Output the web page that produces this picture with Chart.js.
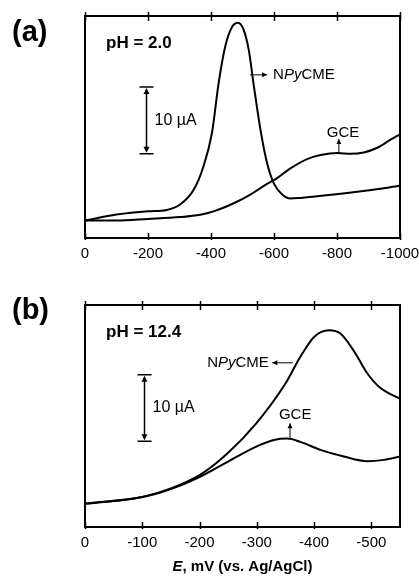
<!DOCTYPE html>
<html>
<head>
<meta charset="utf-8">
<script src="https://cdn.jsdelivr.net/npm/chart.js@4.4.0/dist/chart.umd.min.js"></script>
<style>
  html, body { margin: 0; padding: 0; background: #fff; }
  #wrap { position: relative; width: 419px; height: 582px; }
  .panel { position: absolute; left: 0; width: 419px; }
</style>
</head>
<body>
<div id="wrap">
  <div class="panel" style="top:0;height:290px"><canvas id="chartA"></canvas></div>
  <div class="panel" style="top:290px;height:292px"><canvas id="chartB"></canvas></div>
</div>
<script>
// potentials (mV) and currents (uA)
// panel (a) pH 2.0
var npyA_E = [0, -100, -200, -260, -302, -345, -376, -403, -424, -445, -467, -486, -504, -520, -535, -557, -578, -599, -626, -652, -684, -790, -896, -1000];
var npyA_I = [2.6, 3.5, 4.0, 4.2, 5.0, 7.2, 10.7, 15.7, 23.1, 28.6, 31.6, 32.2, 31.1, 28.1, 23.1, 16.2, 11.2, 8.2, 6.5, 5.9, 6.0, 6.5, 7.1, 7.8];
var gceA_E = [0, -100, -200, -302, -366, -408, -472, -525, -578, -610, -652, -705, -748, -801, -843, -885, -928, -970, -1000];
var gceA_I = [2.6, 2.6, 2.84, 3.13, 3.48, 3.98, 5.2, 6.5, 8.1, 8.96, 10.4, 11.8, 12.4, 12.7, 12.6, 12.8, 13.5, 14.7, 15.5];

// panel (b) pH 12.4
var npyB_E = [0, -50, -100, -150, -200, -249, -299, -350, -376, -400, -426, -446, -470, -493, -516, -550];
var npyB_I = [3.5, 3.9, 4.5, 5.8, 7.8, 11.1, 15.6, 21.6, 25.6, 28.6, 29.6, 29.1, 26.4, 23.1, 20.9, 19.3];
var gceB_E = [0, -100, -150, -200, -249, -299, -330, -353, -376, -411, -452, -493, -522, -550];
var gceB_I = [3.5, 4.5, 5.7, 7.5, 9.8, 12.1, 13.1, 13.3, 12.8, 11.6, 10.6, 9.9, 10.1, 10.6];

var font = '"Liberation Sans", Arial, sans-serif';

function pts(xs, ys) {
  return xs.map(function (x, i) { return { x: x, y: ys[i] }; });
}

function line(xs, ys) {
  return {
    data: pts(xs, ys),
    borderColor: '#000',
    borderWidth: 2,
    pointRadius: 0,
    fill: false,
    cubicInterpolationMode: 'monotone'
  };
}

function arrowHead(c, x, y, dir, size) {
  // dir: 'up' | 'down' | 'left' | 'right'
  c.beginPath();
  if (dir == 'up') { c.moveTo(x, y); c.lineTo(x - size / 2, y + size); c.lineTo(x + size / 2, y + size); }
  if (dir == 'down') { c.moveTo(x, y); c.lineTo(x - size / 2, y - size); c.lineTo(x + size / 2, y - size); }
  if (dir == 'left') { c.moveTo(x, y); c.lineTo(x + size, y - size / 2); c.lineTo(x + size, y + size / 2); }
  if (dir == 'right') { c.moveTo(x, y); c.lineTo(x - size, y - size / 2); c.lineTo(x - size, y + size / 2); }
  c.closePath();
  c.fill();
}

// N Py CME with italic Py
function npyText(c, x, y, align) {
  var f1 = '15px ' + font, f2 = 'italic 15px ' + font;
  c.font = f1; var wN = c.measureText('N').width, wC = c.measureText('CME').width;
  c.font = f2; var wP = c.measureText('Py').width;
  var total = wN + wP + wC;
  var x0 = align == 'right' ? x - total : x;
  c.textAlign = 'left'; c.textBaseline = 'middle';
  c.font = f1; c.fillText('N', x0, y);
  c.font = f2; c.fillText('Py', x0 + wN, y);
  c.font = f1; c.fillText('CME', x0 + wN + wP, y);
}

// frame, crossing tick marks, labels and annotations
var decor = {
  id: 'decor',
  afterDraw: function (chart) {
    var c = chart.ctx, a = chart.chartArea, sx = chart.scales.x, sy = chart.scales.y;
    var o = chart.options.plugins.decor;
    c.save();
    c.strokeStyle = '#000'; c.fillStyle = '#000';
    c.lineWidth = 2;
    c.strokeRect(a.left, a.top, a.right - a.left, a.bottom - a.top);
    c.lineWidth = 1.5;
    sx.ticks.forEach(function (t) {
      var px = Math.round(sx.getPixelForValue(t.value)) + 0.5;
      c.beginPath();
      c.moveTo(px, a.top - 4); c.lineTo(px, a.top + 5);
      c.moveTo(px, a.bottom - 5); c.lineTo(px, a.bottom + 2);
      c.stroke();
    });

    // panel letter and pH
    c.textAlign = 'left'; c.textBaseline = 'alphabetic';
    c.font = 'bold 29px ' + font;
    c.fillText(o.letter, 12, a.top + o.letterDy);
    c.font = 'bold 17px ' + font;
    c.fillText(o.ph, 106, a.top + 32);

    // 10 uA scale bar
    var bx = Math.round(sx.getPixelForValue(o.barE)) + 0.5;
    var b0 = sy.getPixelForValue(o.barI), b1 = sy.getPixelForValue(o.barI + 10);
    c.lineWidth = 1.5;
    c.beginPath();
    c.moveTo(bx, b0 - 4); c.lineTo(bx, b1 + 4);
    c.moveTo(bx - 7, b0); c.lineTo(bx + 7, b0);
    c.moveTo(bx - 7, b1); c.lineTo(bx + 7, b1);
    c.stroke();
    arrowHead(c, bx, b1 + 1, 'up', 6);
    arrowHead(c, bx, b0 - 1, 'down', 6);
    c.font = '16px ' + font; c.textBaseline = 'middle';
    c.fillText('10 \u00b5A', bx + 8, (b0 + b1) / 2);

    // curve labels
    c.lineWidth = 1;
    var n = o.npy;
    var ny = sy.getPixelForValue(n.I);
    var nx0 = sx.getPixelForValue(n.E0), nx1 = sx.getPixelForValue(n.E1);
    c.beginPath(); c.moveTo(nx0, ny); c.lineTo(nx1, ny); c.stroke();
    arrowHead(c, nx1, ny, nx1 > nx0 ? 'right' : 'left', 5);
    npyText(c, sx.getPixelForValue(n.textE), ny, n.align);

    var g = o.gce;
    var gx = sx.getPixelForValue(g.E);
    var gy0 = sy.getPixelForValue(g.I0), gy1 = sy.getPixelForValue(g.I1);
    c.beginPath(); c.moveTo(gx, gy0); c.lineTo(gx, gy1); c.stroke();
    arrowHead(c, gx, gy1, 'up', 5);
    c.font = '15px ' + font; c.textAlign = 'center'; c.textBaseline = 'middle';
    c.fillText('GCE', sx.getPixelForValue(g.textE), sy.getPixelForValue(g.textI));

    // axis title
    if (o.title) {
      c.textBaseline = 'middle'; c.textAlign = 'left';
      c.font = 'bold italic 15px ' + font;
      var wE = c.measureText('E').width;
      c.font = 'bold 15px ' + font;
      var rest = ', mV (vs. Ag/AgCl)';
      var w = wE + c.measureText(rest).width;
      var x0 = (a.left + a.right) / 2 - w / 2;
      c.font = 'bold italic 15px ' + font; c.fillText('E', x0, a.bottom + 40);
      c.font = 'bold 15px ' + font; c.fillText(rest, x0 + wE, a.bottom + 40);
    }
    c.restore();
  }
};

function makeChart(id, sets, xmin, step, ymax, top, axisH, deco) {
  return new Chart(document.getElementById(id), {
    type: 'line',
    data: { datasets: sets },
    options: {
      responsive: true,
      maintainAspectRatio: false,
      animation: false,
      layout: { padding: { left: 85, right: 19, top: top, bottom: 0 } },
      plugins: { legend: { display: false }, tooltip: { enabled: false }, decor: deco },
      scales: {
        x: {
          type: 'linear', min: xmin, max: 0, reverse: true,
          grid: { display: false, drawTicks: false },
          border: { display: false },
          ticks: {
            stepSize: step, includeBounds: false, autoSkip: false, maxRotation: 0,
            padding: 7, color: '#000', font: { family: font, size: 15 },
            callback: function (v) { return String(v); }
          },
          afterFit: function (s) {
            s.height = axisH;
            s.paddingLeft = 0; s.paddingRight = 0;
          }
        },
        y: { display: false, min: 0, max: ymax }
      }
    },
    plugins: [decor]
  });
}

makeChart('chartA', [line(npyA_E, npyA_I), line(gceA_E, gceA_I)], -1000, 200, 33.2, 16, 52, {
  letter: '(a)', letterDy: 25, ph: 'pH = 2.0',
  barE: -194, barI: 12.6,
  npy: { E0: -524, E1: -578, I: 24.4, textE: -597, align: 'left' },
  gce: { E: -806, I0: 12.7, I1: 14.8, textE: -819, textI: 15.7 }
});

makeChart('chartB', [line(npyB_E, npyB_I), line(gceB_E, gceB_I)], -550, 100, 33.4, 15, 55, {
  letter: '(b)', letterDy: 14, ph: 'pH = 12.4', title: true,
  barE: -103, barI: 12.9,
  npy: { E0: -363, E1: -327, I: 24.7, textE: -321, align: 'right' },
  gce: { E: -358, I0: 13.4, I1: 15.6, textE: -367, textI: 16.8 }
});
</script>
</body>
</html>
